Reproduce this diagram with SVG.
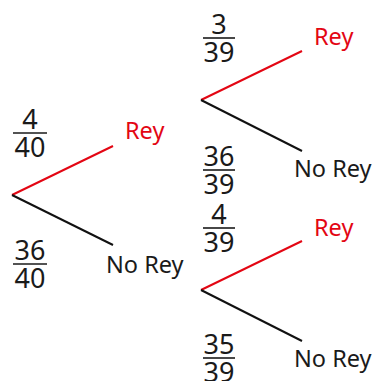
<svg xmlns="http://www.w3.org/2000/svg" width="373" height="381" viewBox="0 0 373 381">
<style>
text{font-family:"Noto Sans","Open Sans","DejaVu Sans",sans-serif}
.lbl{font-size:23.5px;fill:#1a1a1a}
.red{fill:#e30613}
.num{font-size:27px;fill:#1a1a1a;text-anchor:middle}
.bar{stroke:#1a1a1a;stroke-width:1.6}
.e{stroke-width:2;fill:none}
.er{stroke:#e30613}
.eb{stroke:#111}
</style>
<rect width="373" height="381" fill="#fff"/>
<g id="connectors">
<line class="e er" x1="12" y1="195" x2="113" y2="146"/>
<line class="e eb" x1="12" y1="195" x2="113" y2="245"/>
<line class="e er" x1="201" y1="100" x2="302" y2="51"/>
<line class="e eb" x1="201" y1="100" x2="302" y2="151"/>
<line class="e er" x1="201" y1="290" x2="302" y2="241"/>
<line class="e eb" x1="201" y1="290" x2="302" y2="341"/>
</g>
<g id="p1"><text class="num" x="30" y="128.5">4</text><line class="bar" x1="13" y1="133" x2="47" y2="133"/><text class="num" x="30" y="157">40</text></g>
<g id="p2"><text class="num" x="30" y="259.5">36</text><line class="bar" x1="13" y1="264" x2="47" y2="264"/><text class="num" x="30" y="288">40</text></g>
<g id="p3"><text class="num" x="219" y="33.5">3</text><line class="bar" x1="203" y1="38" x2="235" y2="38"/><text class="num" x="219" y="62">39</text></g>
<g id="p4"><text class="num" x="219" y="165.5">36</text><line class="bar" x1="203" y1="170" x2="235" y2="170"/><text class="num" x="219" y="194">39</text></g>
<g id="p5"><text class="num" x="219" y="223.5">4</text><line class="bar" x1="203" y1="228" x2="235" y2="228"/><text class="num" x="219" y="252">39</text></g>
<g id="p6"><text class="num" x="219" y="353.5">35</text><line class="bar" x1="203" y1="358" x2="235" y2="358"/><text class="num" x="219" y="382">39</text></g>
<g id="n1"><text class="lbl red" x="125" y="139">Rey</text></g>
<g id="n2"><text class="lbl" x="106" y="273">No Rey</text></g>
<g id="n3"><text class="lbl red" x="314" y="45">Rey</text></g>
<g id="n4"><text class="lbl" x="294" y="177">No Rey</text></g>
<g id="n5"><text class="lbl red" x="314" y="236">Rey</text></g>
<g id="n6"><text class="lbl" x="294" y="367">No Rey</text></g>
</svg>
